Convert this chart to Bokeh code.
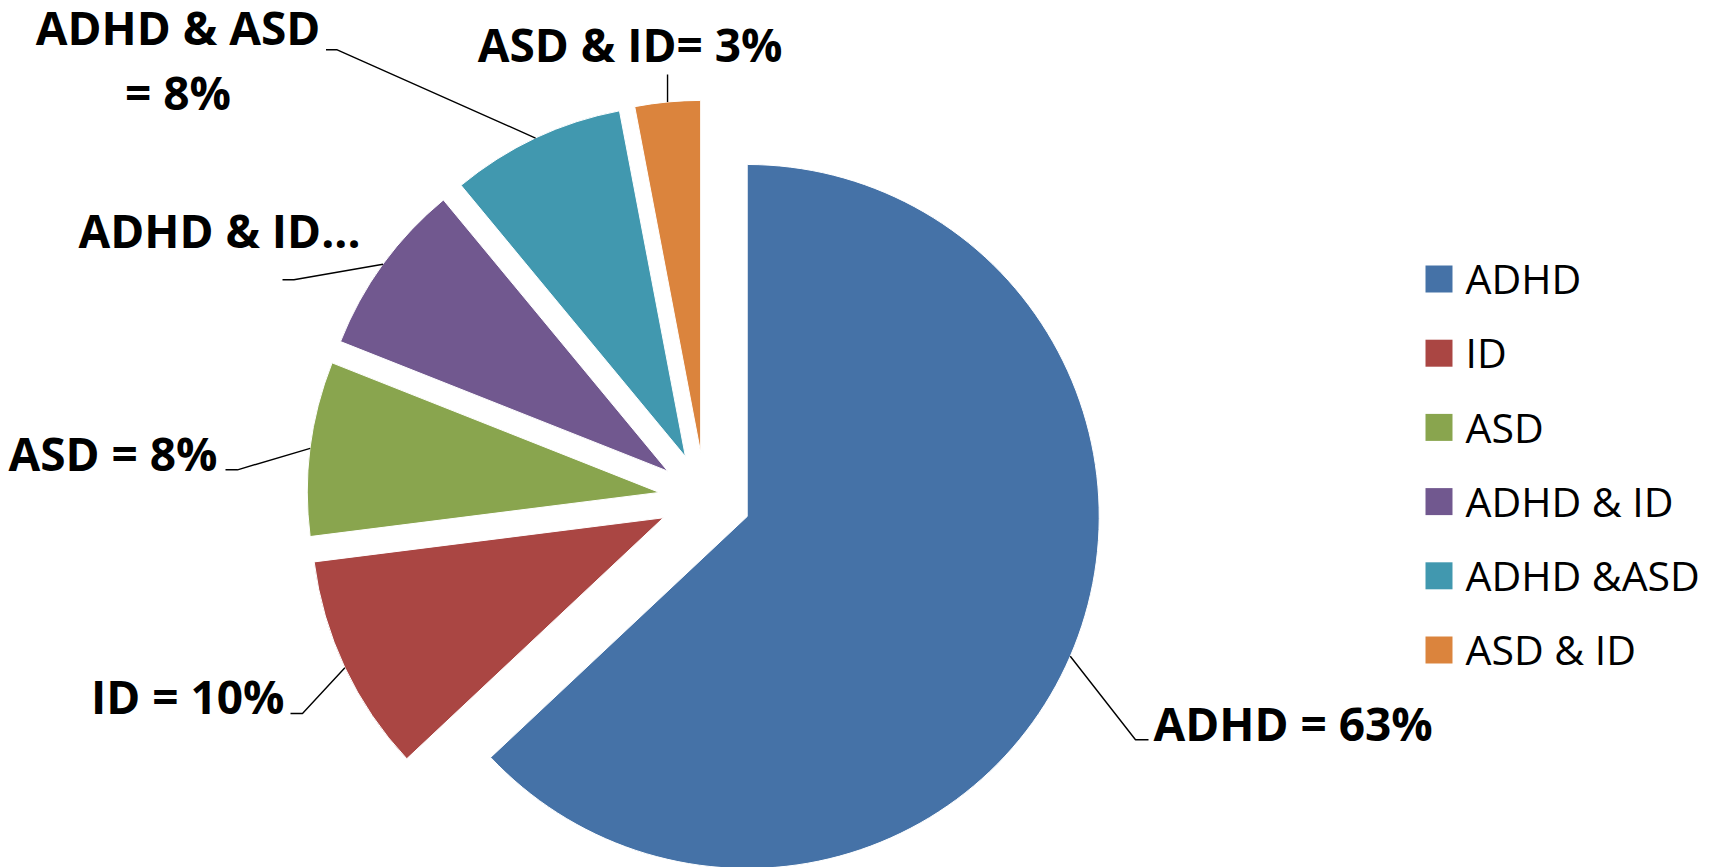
import numpy as np
from bokeh.plotting import figure
from bokeh.models import Range1d, ColumnDataSource
from bokeh.core.properties import value
from bokeh.embed import file_html
from bokeh.resources import INLINE

# ---------------- data ----------------
categories = ["ADHD", "ID", "ASD", "ADHD & ID", "ADHD & ASD", "ASD & ID"]
legend_labels = ["ADHD", "ID", "ASD", "ADHD & ID", "ADHD &ASD", "ASD & ID"]
values = [63, 10, 8, 8, 8, 3]
data_labels = ["ADHD = 63%", "ID = 10%", "ASD = 8%", "ADHD & ID...", "ADHD & ASD\n= 8%", "ASD & ID= 3%"]
colors = ["#4572A7", "#AA4643", "#89A54E", "#71588F", "#4198AF", "#DB843D"]

# ---------------- layout (screen px, y down) ----------------
W, H = 1723, 867
PAGE_H = 867


def Y(y):
    return PAGE_H - y


CX, CY = 704.5, 497.7
EXPLODE = 46
RADIUS = 352

# leader elbows and ends, label anchors (screen coords)
leader_elbow = [(1135, 739.3), (302, 713), (237, 469.3), (293.4, 279.3), (336.7, 49.3), None]
leader_end = [(1148, 739.3), (290, 713), (225, 469.3), (282, 279.3), (325.5, 49.3), (None, 74)]
label_anchor = [(1153, 740, "left"), (284, 713, "right"), (217, 470, "right"),
                (360, 246.7, "right"), (177.5, 44, "center"), (629.6, 60.7, "center")]
LINE_STEP = 65
LABEL_SHIFT = 17.5   # baseline correction for the renderer
LEGEND_SHIFT = 15.0

p = figure(width=W, height=H, x_range=Range1d(0, W), y_range=Range1d(PAGE_H - H, PAGE_H),
           output_backend="svg", toolbar_location=None, min_border=0)
p.axis.visible = False
p.grid.visible = False
p.outline_line_color = None
p.background_fill_color = "white"
p.border_fill_color = "white"

vals = np.array(values, dtype=float)
cum = np.concatenate([[0.0], np.cumsum(vals / vals.sum())]) * 2 * np.pi
th_s, th_e = cum[:-1], cum[1:]
mid = (th_s + th_e) / 2

cx, cy = CX, Y(CY)
vx = cx + EXPLODE * np.sin(mid)
vy = cy + EXPLODE * np.cos(mid)

src = ColumnDataSource(dict(x=vx, y=vy, s=np.pi / 2 - th_s, e=np.pi / 2 - th_e, c=colors, name=categories))
p.wedge(x="x", y="y", radius=RADIUS, start_angle="s", end_angle="e", direction="clock",
        fill_color="c", line_color="white", line_width=1, source=src)

# leader lines
ax = vx + RADIUS * np.sin(mid)
ay = vy + RADIUS * np.cos(mid)
xs, ys = [], []
for i in range(len(values)):
    lx, ly = [ax[i]], [ay[i]]
    if leader_elbow[i] is not None:
        lx.append(leader_elbow[i][0]); ly.append(Y(leader_elbow[i][1]))
    ex, ey = leader_end[i]
    lx.append(ax[i] if ex is None else ex); ly.append(Y(ey))
    xs.append(lx); ys.append(ly)
p.multi_line(xs=xs, ys=ys, line_color="black", line_width=1.4)

# data labels
tx, ty, tt, ta = [], [], [], []
for i, lab in enumerate(data_labels):
    x0, y0, al = label_anchor[i]
    for k, line in enumerate(lab.split("\n")):
        tx.append(x0); ty.append(Y(y0 + k * LINE_STEP - LABEL_SHIFT)); tt.append(line); ta.append(al)
p.text(x="x", y="y", text="t", text_align="a", text_baseline="alphabetic",
       text_font=value("Open Sans"), text_font_style="bold", text_font_size="46px", text_color="black",
       source=ColumnDataSource(dict(x=tx, y=ty, t=tt, a=ta)))

# legend
LEG_X, LEG_Y0, LEG_STEP, SQ = 1438.5, 278.5, 74.2, 27
n = len(legend_labels)
p.rect(x=[LEG_X] * n, y=[Y(LEG_Y0 + i * LEG_STEP) for i in range(n)], width=SQ, height=SQ,
       fill_color=colors, line_color=None)
p.text(x=[1465] * n, y=[Y(LEG_Y0 + 14.2 + i * LEG_STEP - LEGEND_SHIFT) for i in range(n)], text=legend_labels,
       text_baseline="alphabetic", text_align="left",
       text_font=value("Open Sans"), text_font_size="41px", text_color="black")

open("out.html", "w").write(file_html(p, INLINE))
